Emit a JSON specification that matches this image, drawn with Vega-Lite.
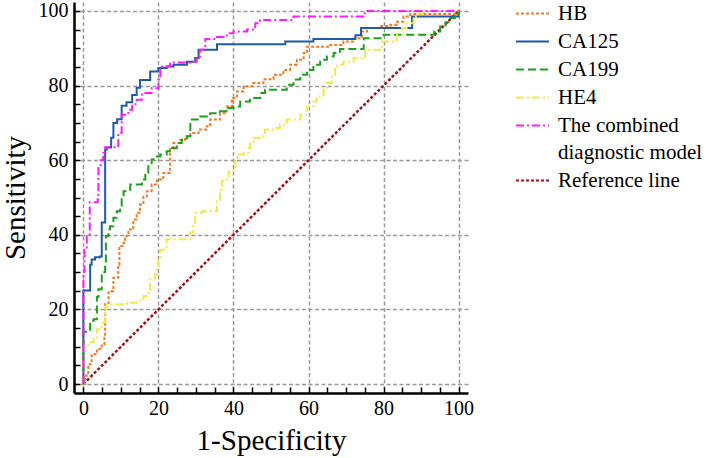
{
  "$schema": "https://vega.github.io/schema/vega-lite/v6.json",
  "width": 394,
  "height": 391,
  "autosize": "none",
  "padding": {"left": 74, "top": 2, "right": 241, "bottom": 65},
  "background": "white",
  "config": {
    "view": {"stroke": null},
    "font": "Liberation Serif",
    "style": {"guide-label": {"lineHeight": 27}},
    "legend": {
      "labelFont": "Liberation Serif", "labelFontSize": 21, "labelColor": "black",
      "symbolType": "stroke", "symbolSize": 1089, "symbolStrokeWidth": 2,
      "labelOffset": 8, "rowPadding": -3, "labelLimit": 400, "padding": 0
    }
  },
  "datasets": {
    "roc": [
      {"s":"HB","x":0,"y":0},{"s":"HB","x":0.45,"y":2.2},{"s":"HB","x":0.9,"y":2.7},{"s":"HB","x":1.3,"y":5.3},{"s":"HB","x":2.2,"y":8},{"s":"HB","x":3.6,"y":9.4},{"s":"HB","x":4.9,"y":10.7},{"s":"HB","x":5.6,"y":12.5},{"s":"HB","x":5.8,"y":21.4},{"s":"HB","x":6.7,"y":24.9},{"s":"HB","x":8,"y":28.5},{"s":"HB","x":9.3,"y":32},{"s":"HB","x":9.6,"y":37},{"s":"HB","x":10.7,"y":37.9},{"s":"HB","x":11.1,"y":39.7},{"s":"HB","x":12,"y":41.4},{"s":"HB","x":13.3,"y":44.1},{"s":"HB","x":14.2,"y":45.9},{"s":"HB","x":15.1,"y":48.1},{"s":"HB","x":16,"y":50.3},{"s":"HB","x":16.9,"y":51.7},{"s":"HB","x":18.2,"y":53.5},{"s":"HB","x":19.6,"y":54.8},{"s":"HB","x":21.3,"y":56.6},{"s":"HB","x":23.1,"y":57.9},{"s":"HB","x":23.1,"y":63},{"s":"HB","x":24,"y":64.6},{"s":"HB","x":25.8,"y":65.5},{"s":"HB","x":27.1,"y":66.4},{"s":"HB","x":28.5,"y":67.3},{"s":"HB","x":30.7,"y":68.2},{"s":"HB","x":32.9,"y":69.1},{"s":"HB","x":33.8,"y":70.9},{"s":"HB","x":36.4,"y":72.6},{"s":"HB","x":38.2,"y":74.4},{"s":"HB","x":39.6,"y":76.7},{"s":"HB","x":40.9,"y":78.4},{"s":"HB","x":42.7,"y":79.8},{"s":"HB","x":45.3,"y":80.7},{"s":"HB","x":48,"y":81.7},{"s":"HB","x":50.7,"y":82.9},{"s":"HB","x":53.3,"y":84.2},{"s":"HB","x":55.1,"y":85.6},{"s":"HB","x":56.9,"y":86.9},{"s":"HB","x":58.7,"y":88.7},{"s":"HB","x":59.6,"y":90.4},{"s":"HB","x":62.2,"y":90.4},{"s":"HB","x":65.8,"y":90.9},{"s":"HB","x":69.3,"y":91.8},{"s":"HB","x":72,"y":92.7},{"s":"HB","x":74.2,"y":94.5},{"s":"HB","x":75.6,"y":95.4},{"s":"HB","x":79.1,"y":96},{"s":"HB","x":81.8,"y":96.3},{"s":"HB","x":83.6,"y":97.1},{"s":"HB","x":85.3,"y":98.5},{"s":"HB","x":87.1,"y":99.2},{"s":"HB","x":100,"y":99.2},{"s":"HB","x":100,"y":100},

      {"s":"CA125","x":0,"y":0},{"s":"CA125","x":0,"y":25.1},{"s":"CA125","x":1.8,"y":25.1},{"s":"CA125","x":1.8,"y":32},{"s":"CA125","x":2.2,"y":33.4},{"s":"CA125","x":3.1,"y":34},{"s":"CA125","x":4.4,"y":34.2},{"s":"CA125","x":4.9,"y":34.5},{"s":"CA125","x":4.9,"y":43.3},{"s":"CA125","x":5.8,"y":43.3},{"s":"CA125","x":5.8,"y":62.8},{"s":"CA125","x":6.2,"y":63.4},{"s":"CA125","x":7.4,"y":64.2},{"s":"CA125","x":7.4,"y":66},{"s":"CA125","x":8,"y":70},{"s":"CA125","x":9,"y":71},{"s":"CA125","x":10.2,"y":74.6},{"s":"CA125","x":11.5,"y":75.5},{"s":"CA125","x":13,"y":77.5},{"s":"CA125","x":14.2,"y":79.4},{"s":"CA125","x":15.1,"y":81.5},{"s":"CA125","x":17.8,"y":83.8},{"s":"CA125","x":20,"y":84.7},{"s":"CA125","x":22.2,"y":85.1},{"s":"CA125","x":24,"y":85.6},{"s":"CA125","x":27.6,"y":86.4},{"s":"CA125","x":29.8,"y":87.4},{"s":"CA125","x":30.7,"y":89.6},{"s":"CA125","x":35.6,"y":91.1},{"s":"CA125","x":53.8,"y":91.8},{"s":"CA125","x":61.3,"y":92.5},{"s":"CA125","x":72.5,"y":93.5},{"s":"CA125","x":74,"y":95.4},{"s":"CA125","x":87.6,"y":98.5},{"s":"CA125","x":100,"y":100},

      {"s":"CA199","x":0,"y":0},{"s":"CA199","x":0,"y":14},{"s":"CA199","x":1.8,"y":14.3},{"s":"CA199","x":1.8,"y":16.9},{"s":"CA199","x":2.7,"y":17.4},{"s":"CA199","x":3.6,"y":18.3},{"s":"CA199","x":3.6,"y":23.3},{"s":"CA199","x":4,"y":25.4},{"s":"CA199","x":4.9,"y":27},{"s":"CA199","x":4.9,"y":30},{"s":"CA199","x":5.8,"y":30.7},{"s":"CA199","x":5.8,"y":32},{"s":"CA199","x":6,"y":39.7},{"s":"CA199","x":6.7,"y":41.5},{"s":"CA199","x":7.1,"y":42.3},{"s":"CA199","x":8,"y":44.6},{"s":"CA199","x":8.9,"y":46.3},{"s":"CA199","x":9.8,"y":47.7},{"s":"CA199","x":10.2,"y":49.5},{"s":"CA199","x":10.7,"y":51.7},{"s":"CA199","x":11.6,"y":52.1},{"s":"CA199","x":12.5,"y":53.5},{"s":"CA199","x":15.1,"y":53.5},{"s":"CA199","x":15.6,"y":54.8},{"s":"CA199","x":16.5,"y":56.6},{"s":"CA199","x":17.3,"y":58.4},{"s":"CA199","x":18.2,"y":60.2},{"s":"CA199","x":18.7,"y":61},{"s":"CA199","x":20.5,"y":61.5},{"s":"CA199","x":22.2,"y":62.4},{"s":"CA199","x":23.1,"y":63.3},{"s":"CA199","x":24.9,"y":64.6},{"s":"CA199","x":26.2,"y":65.5},{"s":"CA199","x":27.6,"y":66.4},{"s":"CA199","x":28.5,"y":70.9},{"s":"CA199","x":31.1,"y":71.7},{"s":"CA199","x":33.8,"y":72.6},{"s":"CA199","x":36.4,"y":73.1},{"s":"CA199","x":38.2,"y":74},{"s":"CA199","x":40,"y":74.4},{"s":"CA199","x":41.8,"y":75.7},{"s":"CA199","x":44.4,"y":76.7},{"s":"CA199","x":47.1,"y":78},{"s":"CA199","x":48.4,"y":78.9},{"s":"CA199","x":52.4,"y":78.9},{"s":"CA199","x":54.2,"y":80.2},{"s":"CA199","x":56,"y":81.6},{"s":"CA199","x":57.8,"y":82.9},{"s":"CA199","x":59.6,"y":84.2},{"s":"CA199","x":61.3,"y":85.6},{"s":"CA199","x":63.1,"y":86.9},{"s":"CA199","x":64.9,"y":87.8},{"s":"CA199","x":66.7,"y":88.7},{"s":"CA199","x":68.4,"y":89.8},{"s":"CA199","x":74.7,"y":92.7},{"s":"CA199","x":80,"y":93.6},{"s":"CA199","x":92.4,"y":93.6},{"s":"CA199","x":93.5,"y":94.5},{"s":"CA199","x":95.1,"y":95.8},{"s":"CA199","x":96.5,"y":97},{"s":"CA199","x":97.8,"y":98.1},{"s":"CA199","x":99,"y":99.2},{"s":"CA199","x":100,"y":100},

      {"s":"HE4","x":0,"y":0},{"s":"HE4","x":0,"y":9.4},{"s":"HE4","x":0.45,"y":10.2},{"s":"HE4","x":1.3,"y":11.2},{"s":"HE4","x":2.7,"y":12.5},{"s":"HE4","x":3.6,"y":14.7},{"s":"HE4","x":4.9,"y":16.5},{"s":"HE4","x":5.8,"y":20.5},{"s":"HE4","x":6.2,"y":21.4},{"s":"HE4","x":9.3,"y":21.4},{"s":"HE4","x":11.6,"y":21.8},{"s":"HE4","x":15.1,"y":22.3},{"s":"HE4","x":16,"y":23.6},{"s":"HE4","x":17.3,"y":24.9},{"s":"HE4","x":17.8,"y":28.1},{"s":"HE4","x":19.1,"y":29.4},{"s":"HE4","x":19.6,"y":30.7},{"s":"HE4","x":20,"y":33.4},{"s":"HE4","x":20.5,"y":36},{"s":"HE4","x":22.2,"y":38.8},{"s":"HE4","x":27.6,"y":38.8},{"s":"HE4","x":28.5,"y":40.6},{"s":"HE4","x":29.3,"y":42.3},{"s":"HE4","x":29.8,"y":45.9},{"s":"HE4","x":31.6,"y":46.3},{"s":"HE4","x":35.1,"y":46.3},{"s":"HE4","x":35.6,"y":49},{"s":"HE4","x":36.4,"y":52.1},{"s":"HE4","x":36.9,"y":54.4},{"s":"HE4","x":38.2,"y":55.3},{"s":"HE4","x":38.7,"y":57},{"s":"HE4","x":40,"y":57.9},{"s":"HE4","x":40.5,"y":60.2},{"s":"HE4","x":40.9,"y":61.5},{"s":"HE4","x":42.7,"y":61.9},{"s":"HE4","x":44,"y":63.3},{"s":"HE4","x":44.4,"y":64.6},{"s":"HE4","x":45.3,"y":66},{"s":"HE4","x":47.1,"y":66.4},{"s":"HE4","x":48.4,"y":68.2},{"s":"HE4","x":50.7,"y":68.6},{"s":"HE4","x":52.4,"y":69.5},{"s":"HE4","x":54.2,"y":70.9},{"s":"HE4","x":57.8,"y":72.2},{"s":"HE4","x":59.6,"y":74.4},{"s":"HE4","x":61.3,"y":75.7},{"s":"HE4","x":62.2,"y":77.1},{"s":"HE4","x":64,"y":78.9},{"s":"HE4","x":64.9,"y":80.7},{"s":"HE4","x":66.2,"y":82.4},{"s":"HE4","x":67.1,"y":85.1},{"s":"HE4","x":67.6,"y":85.6},{"s":"HE4","x":69.3,"y":86.4},{"s":"HE4","x":72,"y":87.3},{"s":"HE4","x":74.2,"y":87.8},{"s":"HE4","x":75.1,"y":89.6},{"s":"HE4","x":79.1,"y":90.4},{"s":"HE4","x":79.6,"y":91.8},{"s":"HE4","x":82.7,"y":92.2},{"s":"HE4","x":83.6,"y":93.6},{"s":"HE4","x":84.9,"y":95.4},{"s":"HE4","x":86.2,"y":96.7},{"s":"HE4","x":88,"y":98.5},{"s":"HE4","x":89.3,"y":99.4},{"s":"HE4","x":90.5,"y":100},{"s":"HE4","x":100,"y":100},

      {"s":"The combined diagnostic model","x":0,"y":0},{"s":"The combined diagnostic model","x":0,"y":30},{"s":"The combined diagnostic model","x":0.3,"y":36},{"s":"The combined diagnostic model","x":0.9,"y":39.7},{"s":"The combined diagnostic model","x":1.7,"y":48.7},{"s":"The combined diagnostic model","x":3.8,"y":49.5},{"s":"The combined diagnostic model","x":4,"y":57.9},{"s":"The combined diagnostic model","x":4.6,"y":60},{"s":"The combined diagnostic model","x":5.3,"y":62},{"s":"The combined diagnostic model","x":5.8,"y":63.5},{"s":"The combined diagnostic model","x":9.3,"y":64.5},{"s":"The combined diagnostic model","x":9.3,"y":67.3},{"s":"The combined diagnostic model","x":10.2,"y":72.2},{"s":"The combined diagnostic model","x":12,"y":73.5},{"s":"The combined diagnostic model","x":13,"y":75},{"s":"The combined diagnostic model","x":14.2,"y":76.2},{"s":"The combined diagnostic model","x":15.6,"y":78},{"s":"The combined diagnostic model","x":18.2,"y":79.3},{"s":"The combined diagnostic model","x":20,"y":81.6},{"s":"The combined diagnostic model","x":20.5,"y":85.1},{"s":"The combined diagnostic model","x":23.1,"y":86.2},{"s":"The combined diagnostic model","x":28.5,"y":86.4},{"s":"The combined diagnostic model","x":30.2,"y":87.8},{"s":"The combined diagnostic model","x":31.1,"y":89.6},{"s":"The combined diagnostic model","x":32.5,"y":92.5},{"s":"The combined diagnostic model","x":35.6,"y":93},{"s":"The combined diagnostic model","x":38.2,"y":94},{"s":"The combined diagnostic model","x":40,"y":94.5},{"s":"The combined diagnostic model","x":43.6,"y":95},{"s":"The combined diagnostic model","x":45.8,"y":96.7},{"s":"The combined diagnostic model","x":47.1,"y":97.6},{"s":"The combined diagnostic model","x":56,"y":98.5},{"s":"The combined diagnostic model","x":74.7,"y":99},{"s":"The combined diagnostic model","x":75,"y":100},{"s":"The combined diagnostic model","x":100,"y":100}
    ],
    "ref": [
      {"s":"Reference line","x":0,"y":0},{"s":"Reference line","x":100,"y":100}
    ]
  },
  "encoding": {
    "x": {
      "field": "x", "type": "quantitative",
      "scale": {"domain": [-2.5, 102.5], "nice": false, "zero": false},
      "axis": {
        "title": "1-Specificity",
        "values": [0,5,10,15,20,25,30,35,40,45,50,55,60,65,70,75,80,85,90,95,100],
        "labelExpr": "datum.value % 20 === 0 ? datum.label : ''",
        "labelOverlap": false, "labelFlush": false,
        "grid": true, "gridColor": "#9a9a9a", "gridDash": [4, 2.5], "gridWidth": 1.5,
        "gridOpacity": {"condition": {"test": "datum.value % 20 === 0", "value": 1}, "value": 0},
        "tickSize": -6, "tickColor": "black", "tickWidth": 1.5,
        "domainColor": "black", "domainWidth": 2.5,
        "labelFont": "Liberation Serif", "labelFontSize": 20, "labelColor": "black", "labelPadding": 11,
        "titleFont": "Liberation Serif", "titleFontSize": 29, "titleFontWeight": "normal", "titleColor": "black", "titlePadding": 8
      }
    },
    "y": {
      "field": "y", "type": "quantitative",
      "scale": {"domain": [-2.4, 102.4], "nice": false, "zero": false},
      "axis": {
        "title": "Sensitivity",
        "values": [0,5,10,15,20,25,30,35,40,45,50,55,60,65,70,75,80,85,90,95,100],
        "labelExpr": "datum.value % 20 === 0 ? datum.label : ''",
        "labelOverlap": false, "labelFlush": false,
        "grid": true, "gridColor": "#9a9a9a", "gridDash": [4, 2.5], "gridWidth": 1.5,
        "gridOpacity": {"condition": {"test": "datum.value % 20 === 0", "value": 1}, "value": 0},
        "tickSize": -6, "tickColor": "black", "tickWidth": 1.5,
        "domainColor": "black", "domainWidth": 2.5,
        "labelFont": "Liberation Serif", "labelFontSize": 20, "labelColor": "black", "labelPadding": 12,
        "titleFont": "Liberation Serif", "titleFontSize": 29, "titleFontWeight": "normal", "titleColor": "black", "titlePadding": 8
      }
    },
    "color": {
      "field": "s", "type": "nominal",
      "scale": {
        "domain": ["HB","CA125","CA199","HE4","The combined diagnostic model","Reference line"],
        "range": ["#f47a22","#1f5ba8","#1ea01e","#f2e84a","#ff1aff","#a3101a"]
      },
      "legend": {
        "title": null, "orient": "none", "legendX": 441, "legendY": -6,
        "labelExpr": "datum.label == 'The combined diagnostic model' ? ['The combined', 'diagnostic model'] : datum.label"
      }
    },
    "strokeDash": {
      "field": "s", "type": "nominal",
      "scale": {
        "domain": ["HB","CA125","CA199","HE4","The combined diagnostic model","Reference line"],
        "range": [[3,2],[1,0],[8,4],[8,3,2,3],[8,3,2,3],[3,2]]
      },
      "legend": {
        "title": null, "orient": "none", "legendX": 441, "legendY": -6,
        "labelExpr": "datum.label == 'The combined diagnostic model' ? ['The combined', 'diagnostic model'] : datum.label"
      }
    },
    "order": {"value": null}
  },
  "layer": [
    {
      "data": {"name": "ref"},
      "mark": {"type": "line", "strokeWidth": 2.5, "interpolate": "linear"}
    },
    {
      "data": {"name": "roc"},
      "mark": {"type": "line", "strokeWidth": 2, "interpolate": "step-after"}
    }
  ]
}
